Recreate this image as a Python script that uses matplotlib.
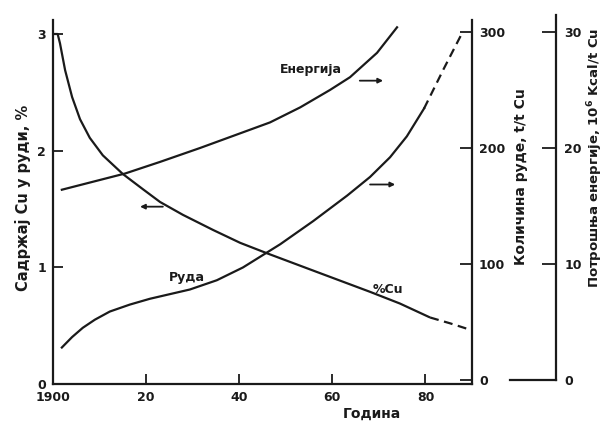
import matplotlib.pyplot as plt

plt.rcParams['font.family'] = ['DejaVu Sans']
plt.rcParams['font.weight'] = 'bold'

# %Cu in ore (left axis)
cu_years = [1900, 1901, 1901.5, 1902.6, 1904.1, 1905.8, 1907.9, 1910.7, 1915.0, 1919.3,
            1923.0, 1927.9, 1934.4, 1940.2, 1946.0, 1956.7, 1968.1, 1974.5, 1981.0]
cu_pct = [3.0, 3.0, 2.92, 2.69, 2.46, 2.27, 2.11, 1.96, 1.80, 1.67,
          1.56, 1.45, 1.32, 1.21, 1.12, 0.96, 0.79, 0.69, 0.57]
cu_proj_years = [1981.0, 1985.3, 1990.0]
cu_proj_pct = [0.57, 0.52, 0.46]

# ore quantity, t per t Cu (first right axis)
ore_years = [1901.9, 1904.1, 1906.4, 1909.0, 1912.2, 1916.5, 1920.8, 1925.1, 1929.4, 1935.2,
             1940.8, 1946.0, 1948.8, 1955.9, 1963.2, 1968.1, 1972.4, 1976.0, 1979.7]
ore_t = [28, 37, 45, 52, 59, 65, 70, 74, 78, 86,
         97, 110, 117, 137, 159, 175, 192, 210, 234]
ore_proj_years = [1979.7, 1983.9, 1988.0]
ore_proj_t = [234, 268, 300]

# energy use, 10^6 kcal per t Cu (second right axis)
energy_years = [1901.9, 1915.5, 1923.0, 1931.6, 1939.1, 1946.6, 1953.1, 1959.5, 1963.8, 1969.6, 1973.9]
energy_e = [16.4, 17.8, 18.8, 20.0, 21.1, 22.2, 23.5, 25.0, 26.1, 28.2, 30.4]

x_ticks = [1900, 1920, 1940, 1960, 1980]
x_labels = ['1900', '20', '40', '60', '80']

W, H = 606, 423
ink = '#1a1a1a'
lw = 1.6

fig = plt.figure(figsize=(W / 100, H / 100), dpi=100)
ax = fig.add_axes([53 / W, 1 - 384 / H, 419 / W, 364 / H])

# main axis (%Cu)
ax.plot(cu_years, cu_pct, color=ink, lw=lw, solid_capstyle='butt')
ax.plot(cu_proj_years, cu_proj_pct, color=ink, lw=lw, dashes=(4, 2.5))
ax.set_xlim(1900, 1990)
ax.set_ylim(0, 3.12)
ax.set_xticks(x_ticks)
ax.set_xticklabels(x_labels)
ax.set_yticks([0, 1, 2, 3])
ax.tick_params(direction='in', length=7, width=1.3, labelsize=9, colors=ink, pad=5)
ax.spines['top'].set_visible(False)
ax.spines['right'].set_visible(False)
for s in ('left', 'bottom'):
    ax.spines[s].set_linewidth(1.6)
    ax.spines[s].set_color(ink)

# ore axis
ax_r = ax.twinx()
ax_r.plot(ore_years, ore_t, color=ink, lw=lw)
ax_r.plot(ore_proj_years, ore_proj_t, color=ink, lw=lw, dashes=(4, 2.5))
ax_r.set_ylim(-3.45, 310.3)
ax_r.set_yticks([0, 100, 200, 300])
ax_r.tick_params(direction='in', length=9, width=1.3, labelsize=9, colors=ink, pad=5)
for s in ('top', 'left', 'bottom'):
    ax_r.spines[s].set_visible(False)
ax_r.spines['right'].set_linewidth(1.6)
ax_r.spines['right'].set_color(ink)

# energy curve, drawn against the third scale
ax_e = ax.twinx()
ax_e.plot(energy_years, energy_e, color=ink, lw=lw)
ax_e.set_ylim(-0.345, 31.03)
ax_e.axis('off')

# separate third axis at the far right
ax3 = fig.add_axes([510 / W, 1 - 380 / H, 46 / W, 365 / H])
ax3.set_xlim(0, 1)
ax3.set_ylim(0, 31.47)
ax3.set_xticks([])
ax3.set_yticks([0, 10, 20, 30])
ax3.yaxis.tick_right()
ax3.tick_params(direction='in', length=10, width=1.3, labelsize=9, colors=ink, pad=6)
ax3.patch.set_visible(False)
ax3.spines['top'].set_visible(False)
ax3.spines['left'].set_visible(False)
for s in ('right', 'bottom'):
    ax3.spines[s].set_linewidth(1.6)
    ax3.spines[s].set_color(ink)

# in-plot labels and arrows
ax.text(1955.4, 2.70, 'Енергија', ha='center', va='center', fontsize=9, color=ink)
ax.text(1928.8, 0.91, 'Руда', ha='center', va='center', fontsize=9, color=ink)
ax.text(1972.0, 0.81, '%Cu', ha='center', va='center', fontsize=9, color=ink)
arrow = dict(arrowstyle='-|>', lw=1.3, color=ink, mutation_scale=7, shrinkA=0, shrinkB=0)
ax.annotate('', xy=(1970.9, 2.60), xytext=(1965.9, 2.60), arrowprops=arrow)
ax.annotate('', xy=(1973.5, 1.71), xytext=(1968.1, 1.71), arrowprops=arrow)
ax.annotate('', xy=(1918.7, 1.52), xytext=(1923.6, 1.52), arrowprops=arrow)

# axis titles
fig.text(23 / W, 1 - 198 / H, 'Садржај Cu у руди, %', rotation=90, ha='center', va='center',
         fontsize=10.5, color=ink)
fig.text(521 / W, 1 - 177 / H, 'Количина руде, t/t Cu', rotation=90, ha='center', va='center',
         fontsize=10, color=ink)
fig.text(595 / W, 1 - 158 / H, 'Потрошња енергије, 10$^{6}$ Kcal/t Cu', rotation=90,
         ha='center', va='center', fontsize=9.5, color=ink)
fig.text(372 / W, 1 - 414 / H, 'Година', ha='center', va='center', fontsize=10, color=ink)

fig.savefig('out.png', dpi=100)
